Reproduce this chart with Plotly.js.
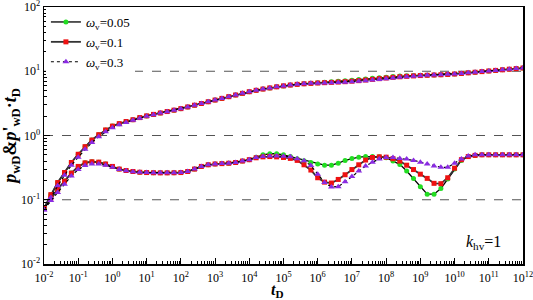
<!DOCTYPE html>
<html>
<head>
<meta charset="utf-8">
<script src="https://cdn.plot.ly/plotly-3.0.1.min.js"></script>
<style>
html,body{margin:0;padding:0;background:#fff;}
#chart{width:533px;height:300px;}
</style>
</head>
<body>
<div id="chart"></div>
<script>
// log10(tD) of each marker
const logTD = [-2.0,-1.8,-1.6,-1.4,-1.2,-1.0,-0.8,-0.6,-0.4,-0.2,
  0.0,0.2,0.4,0.6,0.8,1.0,1.2,1.4,1.6,1.8,
  2.0,2.2,2.4,2.6,2.8,3.0,3.2,3.4,3.6,3.8,
  4.0,4.2,4.4,4.6,4.8,5.0,5.2,5.4,5.6,5.8,
  6.0,6.2,6.4,6.6,6.8,7.0,7.2,7.4,7.6,7.8,
  8.0,8.2,8.4,8.6,8.8,9.0,9.2,9.4,9.6,9.8,
  10.0,10.2,10.4,10.6,10.8,11.0,11.2,11.4,11.6,11.8,12.0];

// pressure pwD, omega_v = 0.05 / 0.1 / 0.3
const pGreen = [0.074,0.12,0.185,0.265,0.38,0.51,0.67,0.85,1.03,1.22,
  1.40,1.53,1.65,1.76,1.90,2.02,2.13,2.24,2.36,2.48,
  2.62,2.78,2.96,3.15,3.35,3.56,3.78,4.02,4.27,4.53,
  4.80,5.05,5.28,5.50,5.72,5.92,6.10,6.25,6.38,6.48,
  6.62,6.74,6.86,6.98,7.12,7.26,7.42,7.58,7.75,7.92,
  8.10,8.26,8.40,8.50,8.58,8.64,8.70,8.75,8.82,8.92,
  9.06,9.24,9.44,9.65,9.87,10.09,10.31,10.53,10.76,10.99,11.22];
const pRed = [0.074,0.12,0.185,0.265,0.38,0.51,0.67,0.85,1.03,1.22,
  1.40,1.53,1.65,1.76,1.90,2.02,2.13,2.24,2.36,2.48,
  2.62,2.78,2.96,3.15,3.35,3.56,3.78,4.02,4.27,4.53,
  4.80,5.05,5.28,5.50,5.72,5.92,6.10,6.25,6.38,6.48,
  6.56,6.64,6.71,6.79,6.88,7.00,7.14,7.30,7.48,7.67,
  7.86,8.04,8.20,8.34,8.46,8.57,8.66,8.74,8.82,8.92,
  9.06,9.24,9.44,9.65,9.87,10.09,10.31,10.53,10.76,10.99,11.22];
const pPurple = [0.069,0.108,0.165,0.24,0.345,0.46,0.61,0.78,0.96,1.14,
  1.32,1.47,1.60,1.72,1.86,1.99,2.11,2.23,2.35,2.48,
  2.62,2.78,2.96,3.15,3.35,3.56,3.78,4.02,4.27,4.53,
  4.80,5.05,5.28,5.50,5.72,5.92,6.10,6.25,6.38,6.48,
  6.52,6.58,6.64,6.70,6.77,6.86,6.98,7.12,7.28,7.46,
  7.66,7.86,8.04,8.22,8.38,8.52,8.64,8.75,8.85,8.96,
  9.10,9.26,9.44,9.65,9.87,10.09,10.31,10.53,10.76,10.99,11.22];

// derivative p'wD*tD
const dGreen = [0.074,0.106,0.145,0.195,0.26,0.33,0.375,0.39,0.385,0.36,
  0.33,0.30,0.285,0.275,0.268,0.265,0.263,0.262,0.262,0.263,
  0.265,0.275,0.30,0.33,0.35,0.36,0.365,0.37,0.38,0.40,
  0.42,0.46,0.50,0.52,0.52,0.50,0.47,0.435,0.405,0.38,
  0.36,0.345,0.345,0.37,0.41,0.44,0.46,0.47,0.47,0.465,
  0.45,0.40,0.355,0.28,0.215,0.16,0.122,0.122,0.15,0.21,
  0.30,0.41,0.47,0.49,0.50,0.50,0.50,0.50,0.50,0.50,0.50];
const dRed = [0.074,0.106,0.145,0.195,0.26,0.33,0.375,0.39,0.385,0.36,
  0.33,0.30,0.285,0.275,0.268,0.265,0.263,0.262,0.262,0.263,
  0.265,0.275,0.30,0.33,0.35,0.36,0.365,0.37,0.38,0.40,
  0.42,0.45,0.465,0.47,0.465,0.455,0.44,0.41,0.35,0.29,
  0.22,0.188,0.182,0.207,0.245,0.295,0.35,0.415,0.455,0.465,
  0.46,0.435,0.40,0.345,0.295,0.25,0.215,0.18,0.178,0.22,
  0.31,0.42,0.47,0.49,0.50,0.50,0.50,0.50,0.50,0.50,0.50];
const dPurple = [0.07,0.097,0.13,0.175,0.235,0.295,0.34,0.36,0.36,0.345,
  0.32,0.295,0.282,0.272,0.267,0.265,0.263,0.262,0.262,0.263,
  0.265,0.275,0.30,0.33,0.35,0.36,0.365,0.37,0.38,0.40,
  0.42,0.455,0.47,0.48,0.48,0.475,0.465,0.435,0.405,0.34,
  0.25,0.185,0.158,0.16,0.19,0.23,0.28,0.335,0.385,0.43,
  0.455,0.455,0.44,0.43,0.41,0.385,0.36,0.335,0.32,0.32,
  0.37,0.43,0.48,0.50,0.50,0.50,0.50,0.50,0.50,0.50,0.50];

const seriesNames = ['<i>ω</i><sub>v</sub>=0.05','<i>ω</i><sub>v</sub>=0.1','<i>ω</i><sub>v</sub>=0.3'];
const xTickExps = [-2,-1,0,1,2,3,4,5,6,7,8,9,10,11,12];
const yTickExps = [-2,-1,0,1,2];
const refLevels = [0.1, 1, 10];

const tD = logTD.map(v => Math.pow(10, v));
const styles = [
  {marker:{symbol:'circle', size:5, color:'#22dd22'}, line:{color:'#000', width:1.3}},
  {marker:{symbol:'square', size:5, color:'#ee1111'}, line:{color:'#333', width:1.8}},
  {marker:{symbol:'triangle-up', size:6, color:'#8a2be2'}, line:{color:'#000', width:1.2, dash:'dot'}}
];
const pSets = [pGreen, pRed, pPurple];
const dSets = [dGreen, dRed, dPurple];
const traces = [];
for (let i = 0; i < 3; i++) {
  traces.push({x:tD, y:pSets[i], type:'scatter', mode:'lines+markers', name:seriesNames[i],
    legendgroup:'g'+i, showlegend:false, marker:styles[i].marker, line:styles[i].line});
  traces.push({x:tD, y:dSets[i], type:'scatter', mode:'lines+markers', name:seriesNames[i],
    legendgroup:'g'+i, showlegend:true, marker:styles[i].marker, line:styles[i].line});
}

function minorVals(lo, hi) {
  const out = [];
  for (let e = lo; e < hi; e++) for (let k = 2; k <= 9; k++) out.push(k * Math.pow(10, e));
  return out;
}
const fontSerif = 'Liberation Serif, Times New Roman, serif';
const axisCommon = {
  type:'log', showgrid:false, zeroline:false, showline:true, linecolor:'#000', linewidth:1.5,
  mirror:true, ticks:'inside', ticklen:6, tickwidth:1, tickcolor:'#000',
  tickfont:{family:fontSerif, size:12, color:'#000'}, tickmode:'array', ticklabeloverflow:'allow'
};
const layout = {
  width:533, height:300,
  margin:{l:44, r:10, t:7, b:36},
  paper_bgcolor:'#fff', plot_bgcolor:'#fff',
  font:{family:fontSerif, color:'#000'},
  xaxis:Object.assign({}, axisCommon, {
    range:[-2, 12.0002],
    ticklabelstandoff:2,
    tickvals:xTickExps.map(e => Math.pow(10, e)),
    ticktext:xTickExps.map(e => '10<sup>' + e + '</sup>'),
    minor:{tickmode:'array', tickvals:minorVals(-2, 12), ticks:'inside', ticklen:3, tickcolor:'#000', tickwidth:1, showgrid:false}
  }),
  yaxis:Object.assign({}, axisCommon, {
    range:[-2.0002, 2.0002],
    tickvals:yTickExps.map(e => Math.pow(10, e)),
    ticktext:yTickExps.map(e => '10<sup>' + e + '</sup>'),
    minor:{tickmode:'array', tickvals:minorVals(-2, 2), ticks:'inside', ticklen:3, tickcolor:'#000', tickwidth:1, showgrid:false},
    title:{text:'<b><i>p</i><sub>wD</sub>&<i>p</i>\'<sub>wD</sub>·<i>t</i><sub>D</sub></b>', font:{family:fontSerif, size:18}, standoff:4}
  }),
  shapes:refLevels.map(v => ({type:'line', xref:'paper', x0:0, x1:1, yref:'y', y0:v, y1:v,
    line:{color:'#555', width:1.2, dash:'dash'}, layer:'below'})),
  annotations:[
    {xref:'paper', yref:'paper', x:0.488, y:-0.058, xanchor:'center', yanchor:'top', showarrow:false,
     text:'<b><i>t</i><sub>D</sub></b>', font:{family:fontSerif, size:16}},
    {xref:'paper', yref:'paper', x:0.958, y:0.04, xanchor:'right', yanchor:'bottom', showarrow:false,
     text:'<i>k</i><sub>hv</sub>=1', font:{family:fontSerif, size:16}}
  ],
  legend:{x:0.004, y:1.0, xanchor:'left', yanchor:'top', bgcolor:'#fff', borderwidth:0,
    font:{family:fontSerif, size:13, color:'#000'}, tracegroupgap:0, itemwidth:30},
  showlegend:true
};
Plotly.newPlot('chart', traces, layout, {displayModeBar:false, staticPlot:true});
</script>
</body>
</html>
